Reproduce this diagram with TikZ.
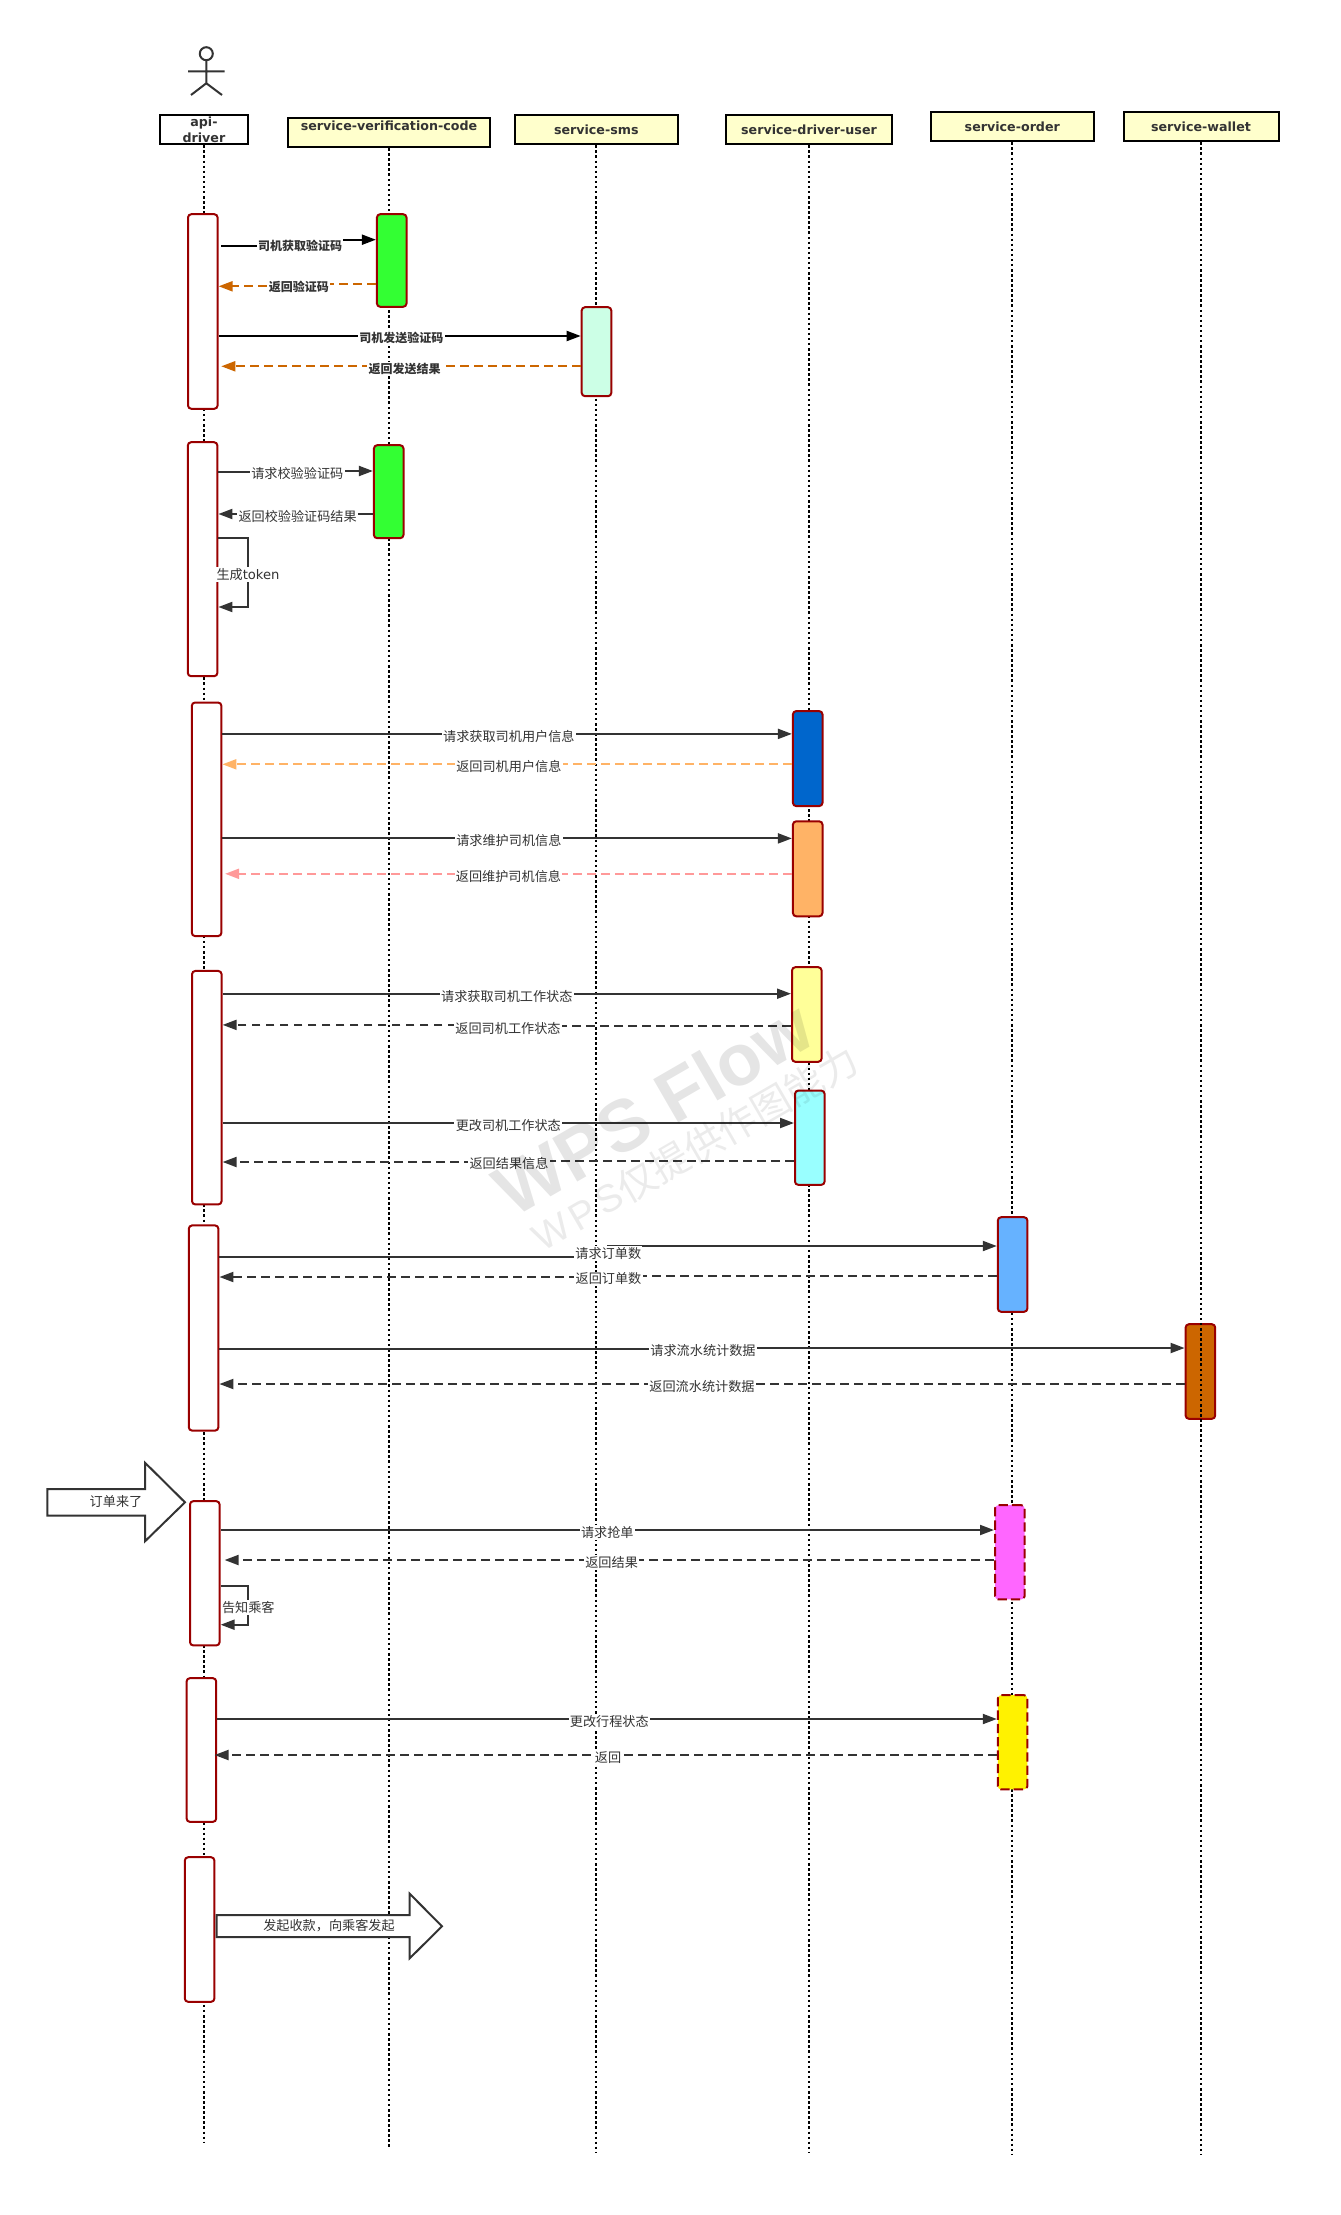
\documentclass[tikz,border=0pt]{standalone}
\usepackage{fontspec}
\setmainfont{DejaVu Sans}
\newfontfamily\cjk{Noto Sans CJK SC}
\newfontfamily\wmlatin{Liberation Sans}
\usetikzlibrary{arrows.meta}

\definecolor{inkgrey}{HTML}{333333}
\definecolor{actred}{HTML}{990000}
\definecolor{hdryellow}{HTML}{FFFFCC}
\definecolor{orangeline}{HTML}{CC6600}

\tikzset{
	hdr/.style={draw=black, line width=1.5pt, fill=hdryellow, text=inkgrey, inner sep=0pt, align=center, font=\fontsize{9.5pt}{11.7pt}\selectfont\bfseries, minimum height=22pt},
	hdrw/.style={minimum width=#1*0.75pt+0.75pt},
	act/.style={draw=actred, line width=1.5pt, fill=white, rounded corners=2.5pt, inner sep=0pt, minimum width=22.2pt},
	acth/.style={minimum height=#1*0.75pt+0.75pt},
	actdash/.style={dash pattern=on 7pt off 3pt},
	lifeline/.style={draw=black, line width=1.5pt, dash pattern=on 1.9pt off 1.9pt},
	msg/.style={draw=inkgrey, line width=1.5pt, -{Triangle[length=10.5pt,width=7.5pt]}},
	msgdash/.style={msg, dash pattern=on 6.5pt off 4pt},
	lbl/.style={fill=white, inner sep=1pt, yshift=-1.8pt, text=inkgrey, font=\fontsize{9.85pt}{11pt}\selectfont\cjk},
	lblb/.style={lbl, font=\fontsize{9pt}{11pt}\selectfont\cjk\bfseries},
	blockarrow/.style={draw=inkgrey, line width=1.5pt, fill=white, line join=miter},
	mark1/.style={text=black, opacity=0.1, font=\fontsize{54.6pt}{60pt}\selectfont\wmlatin\bfseries},
	mark2/.style={text=black, opacity=0.08, font=\fontsize{29pt}{32pt}\selectfont\cjk}
}

\begin{document}
\begin{tikzpicture}[x=0.75pt,y=-0.75pt]
	\useasboundingbox (0,0) rectangle (1341,2215);

	% actor
	\draw[inkgrey, line width=1.5pt] (206.3,53.7) circle (6.5);
	\draw[inkgrey, line width=1.5pt] (206.3,60.2) -- (206.3,83.3) (188,71.3) -- (224.7,71.3) (191,95) -- (206.3,83.3) -- (222,95);

	% headers
	\node[hdr, hdrw=87.4, fill=white] (api) at (203.9,129.7) {api-\\driver};
	\node[hdr, hdrw=201.3] (vcode) at (388.9,132.5) {};
	\node[hdr, hdrw=162] (sms) at (596.3,129.7) {service-sms};
	\node[hdr, hdrw=165.8] (user) at (809,129.7) {service-driver-user};
	\node[hdr, hdrw=162.5] (order) at (1012.3,126.7) {service-order};
	\node[hdr, hdrw=154] (wallet) at (1201,126.7) {service-wallet};
	\node[hdr, draw=none, fill=none, minimum height=0pt] (vcodetext) at (389,125.7) {service-verification-code};

	% lifelines
	\foreach \n/\yend in {api/2141.7, vcode/2148, sms/2152, user/2152, order/2155}
		\draw[lifeline] (\n.south) -- (\n |- 0,\yend);

	% activations
	\node[act, acth=193.6] (A1) at (202.8,311.5) {};
	\node[act, acth=233] (A2) at (202.6,559.2) {};
	\node[act, acth=232.6] (A3) at (206.6,819.3) {};
	\node[act, acth=232.5] (A4) at (206.8,1087.7) {};
	\node[act, acth=204.2] (A5) at (203.6,1328) {};
	\node[act, acth=143.3] (A6) at (204.8,1573.3) {};
	\node[act, acth=142.7] (A7) at (201.4,1750) {};
	\node[act, acth=143.6] (A8) at (199.6,1929.5) {};
	\node[act, acth=91.6, fill={rgb,255:red,51;green,255;blue,51}] (V1) at (391.7,260.5) {};
	\node[act, acth=92, fill={rgb,255:red,51;green,255;blue,51}] (V2) at (388.7,491.7) {};
	\node[act, acth=88, fill={rgb,255:red,204;green,255;blue,230}] (S1) at (596.5,351.7) {};
	\node[act, acth=94, fill={rgb,255:red,0;green,102;blue,204}] (D1) at (807.7,758.6) {};
	\node[act, acth=94, fill={rgb,255:red,255;green,179;blue,102}] (D2) at (807.7,868.8) {};
	\node[act, acth=93.6, fill={rgb,255:red,255;green,255;blue,153}] (D3) at (806.8,1014.5) {};
	\node[act, acth=93.3, fill={rgb,255:red,153;green,255;blue,255}] (D4) at (809.8,1137.7) {};
	\node[act, acth=93.6, fill={rgb,255:red,102;green,178;blue,255}] (O1) at (1012.6,1264.5) {};
	\node[act, acth=93.6, fill=orangeline] (W1) at (1200.4,1371.5) {};
	\node[act, actdash, acth=93.3, fill={rgb,255:red,255;green,102;blue,255}] (O2) at (1009.8,1552.3) {};
	\node[act, actdash, acth=93.3, fill=yellow] (O3) at (1012.6,1742.3) {};
	\draw[lifeline] (wallet.south) -- (wallet |- 0,2155);

	% verification code
	\draw[msg, draw=black] ([xshift=2pt]A1.east |- 0,246.3) -- (300,246.3) -- node[lblb] {司机获取验证码} (300,239.7) -- (V1.west |- 0,239.7);
	\draw[msgdash, draw=orangeline] (V1.west |- 0,283.7) -- (298.8,283.7) -- node[lblb] {返回验证码} (298.8,286.3) -- (A1.east |- 0,286.3);
	\draw[msg, draw=black] (A1.east |- 0,336) -- node[lblb, pos=0.505] {司机发送验证码} (S1.west |- 0,336);
	\draw[msgdash, draw=orangeline] (S1.west |- 0,366.3) -- node[lblb, pos=0.49] {返回发送结果} ([xshift=2pt]A1.east |- 0,366.3);

	\draw[msg] (A2.east |- 0,472) -- (297.3,472) -- node[lbl] {请求校验验证码} (297.3,471) -- (V2.west |- 0,471);
	\draw[msg] (V2.west |- 0,514) -- node[lbl, pos=0.487] {返回校验验证码结果} (A2.east |- 0,514);
	\draw[msg] (A2.east |- 0,538) -- (248,538) -- node[lbl] {生成{\fontspec{DejaVu Sans}token}} (248,607) -- (A2.east |- 0,607);

	% driver user
	\draw[msg] (A3.east |- 0,733.9) -- node[lbl, pos=0.503] {请求获取司机用户信息} (D1.west |- 0,733.9);
	\draw[msgdash, draw={rgb,255:red,255;green,179;blue,102}] (D1.west |- 0,764.3) -- node[lbl, pos=0.497] {返回司机用户信息} (A3.east |- 0,764.3);
	\draw[msg] (A3.east |- 0,838.4) -- node[lbl, pos=0.503] {请求维护司机信息} (D2.west |- 0,838.4);
	\draw[msgdash, draw={rgb,255:red,255;green,153;blue,153}] (D2.west |- 0,873.8) -- node[lbl, pos=0.5] {返回维护司机信息} ([xshift=2pt]A3.east |- 0,873.8);

	\draw[msg] (A4.east |- 0,993.7) -- node[lbl] {请求获取司机工作状态} (D3.west |- 0,993.7);
	\draw[msgdash] (D3.west |- 0,1026.3) -- (508,1026.3) -- node[lbl] {返回司机工作状态} (508,1024.9) -- (A4.east |- 0,1024.9);
	\draw[msg] (A4.east |- 0,1123) -- node[lbl] {更改司机工作状态} (D4.west |- 0,1123);
	\draw[msgdash] (D4.west |- 0,1161) -- (509,1161) -- node[lbl] {返回结果信息} (509,1162) -- (A4.east |- 0,1162);

	% order and wallet
	\draw[msg] (A5.east |- 0,1256.6) -- (608.3,1256.6) -- node[lbl] {请求订单数} (608.3,1246) -- (O1.west |- 0,1246);
	\draw[msgdash] (O1.west |- 0,1276) -- (608.5,1276) -- node[lbl] {返回订单数} (608.5,1277) -- (A5.east |- 0,1277);
	\draw[msg] (A5.east |- 0,1349) -- (703,1349) -- node[lbl] {请求流水统计数据} (703,1348) -- (W1.west |- 0,1348);
	\draw[msgdash] (W1.west |- 0,1384) -- node[lbl] {返回流水统计数据} (A5.east |- 0,1384);

	% new order
	\draw[blockarrow] (47.3,1489) -- (145,1489) -- (145,1462.7) -- (185,1502.3) -- (145,1541.3) -- (145,1515.7) -- (47.3,1515.7) -- cycle;
	\node[lbl, fill=none, yshift=1.8pt] (neworder) at (116,1501.3) {订单来了};
	\draw[msg] (A6.east |- 0,1530) -- node[lbl] {请求抢单} (O2.west |- 0,1530);
	\draw[msgdash] (O2.west |- 0,1560) -- node[lbl, pos=0.497] {返回结果} ([xshift=3pt]A6.east |- 0,1560);
	\draw[msg] (A6.east |- 0,1586) -- (248.3,1586) -- node[lbl] {告知乘客} (248.3,1624.7) -- (A6.east |- 0,1624.7);

	\draw[msg] (A7.east |- 0,1719) -- node[lbl, pos=0.503] {更改行程状态} (O3.west |- 0,1719);
	\draw[msgdash] (O3.west |- 0,1755) -- node[lbl, pos=0.497] {返回} ([xshift=-2pt]A7.east |- 0,1755);

	\draw[blockarrow] (216.7,1915) -- (409.7,1915) -- (409.7,1893.7) -- (442,1926.3) -- (409.7,1958.3) -- (409.7,1937) -- (216.7,1937) -- cycle;
	\node[lbl, fill=none, yshift=1.8pt] (payment) at (329,1926) {发起收款，向乘客发起};

	% watermark
	\node[mark1, rotate=30] (markone) at (653,1108) {WPS Flow};
	\node[mark2, rotate=30] (marktwo) at (695,1148) {{\wmlatin\addfontfeature{LetterSpace=12}WPS}仅提供作图能力};
\end{tikzpicture}
\end{document}
